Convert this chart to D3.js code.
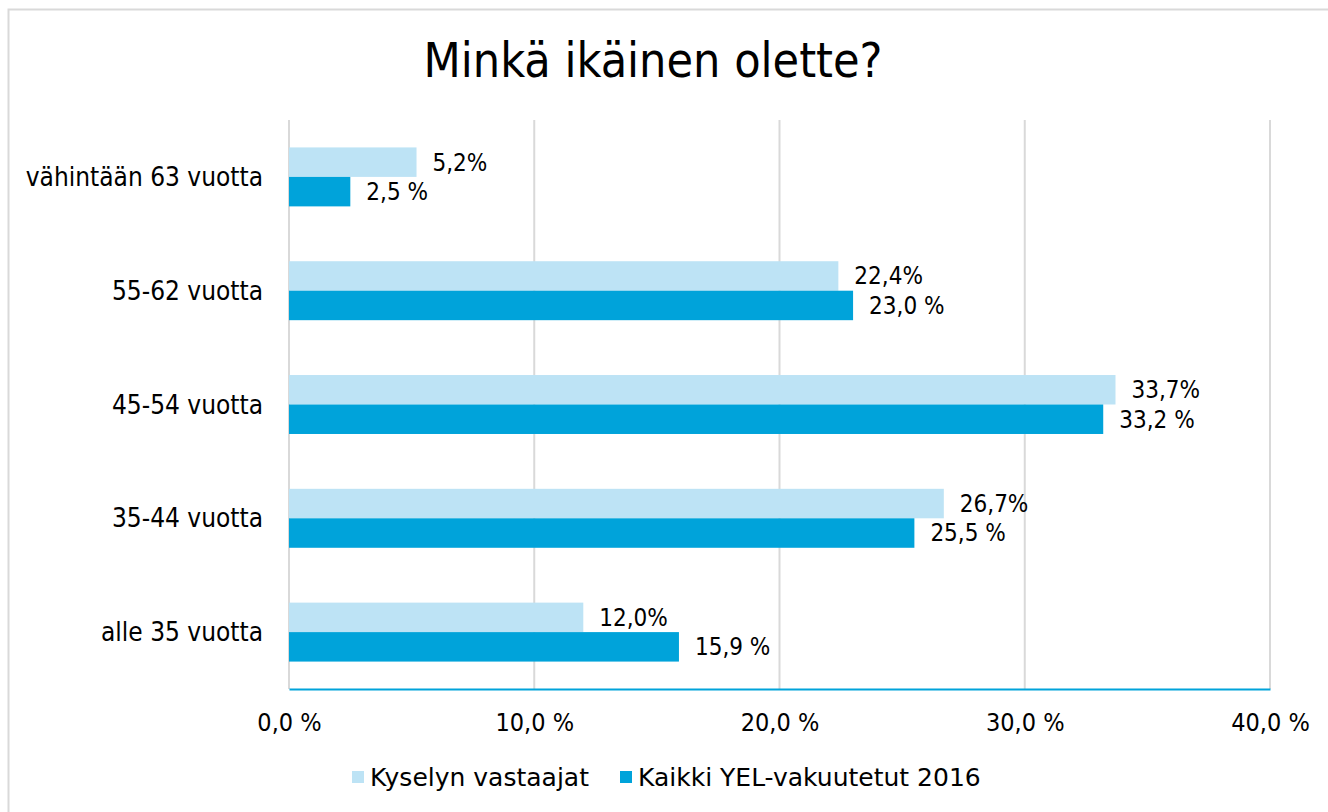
<!DOCTYPE html>
<html>
<head>
<meta charset="utf-8">
<script src="https://cdn.jsdelivr.net/npm/d3@7"></script>
<style>
  body { margin: 0; background: #fff; }
  text { font-family: "DejaVu Sans Condensed", "DejaVu Sans", sans-serif; fill: #000; }
</style>
</head>
<body>
<svg></svg>
<script>
const categories = ['vähintään 63 vuotta', '55-62 vuotta', '45-54 vuotta', '35-44 vuotta', 'alle 35 vuotta'];
const seriesNames = ['Kyselyn vastaajat', 'Kaikki YEL-vakuutetut 2016'];
const respondents = [5.2, 22.4, 33.7, 26.7, 12.0];
const allInsured = [2.5, 23.0, 33.2, 25.5, 15.9];
const xTicks = [0, 10, 20, 30, 40];
const colors = ['#bde3f5', '#00a3da'];

const width = 1328;
const height = 812;
const margin = {top: 120, right: 58, bottom: 123, left: 289};

const svg = d3.select('svg').attr('width', width).attr('height', height);

// chart frame
svg.append('rect')
    .attr('x', 8.5).attr('y', 9.5)
    .attr('width', width).attr('height', height)
    .attr('fill', 'none').attr('stroke', '#d9d9d9').attr('stroke-width', 2);

svg.append('text')
    .attr('x', 653).attr('y', 77)
    .attr('text-anchor', 'middle')
    .style('font-size', '48px')
    .text('Minkä ikäinen olette?');

const x = d3.scaleLinear().domain([0, 40]).range([margin.left, width - margin.right]);
const y = d3.scaleBand().domain(categories).range([margin.top, height - margin.bottom]);
const sub = d3.scaleBand().domain(seriesNames).range([0, y.bandwidth()]).paddingOuter(0.93);

const fmt = v => d3.format('.1f')(v).replace('.', ',');

// gridlines
svg.append('g')
  .selectAll('line')
  .data(xTicks)
  .join('line')
    .attr('x1', d => x(d)).attr('x2', d => x(d))
    .attr('y1', margin.top).attr('y2', height - margin.bottom)
    .attr('stroke', '#d9d9d9').attr('stroke-width', 2);

const data = [respondents, allInsured];

data.forEach((vals, si) => {
  const g = svg.append('g');
  g.selectAll('rect')
    .data(vals)
    .join('rect')
      .attr('x', x(0))
      .attr('y', (d, i) => y(categories[i]) + sub(seriesNames[si]))
      .attr('width', d => x(d) - x(0))
      .attr('height', sub.bandwidth())
      .attr('fill', colors[si]);
  g.selectAll('text')
    .data(vals)
    .join('text')
      .attr('x', d => x(d) + 16)
      .attr('y', (d, i) => y(categories[i]) + sub(seriesNames[si]) + sub.bandwidth() / 2)
      .attr('dy', '0.35em')
      .style('font-size', '24px')
      .text(d => si === 0 ? fmt(d) + '%' : fmt(d) + ' %');
});

// category labels
svg.append('g')
  .selectAll('text')
  .data(categories)
  .join('text')
    .attr('x', 263)
    .attr('y', d => y(d) + y.bandwidth() / 2)
    .attr('dy', '0.35em')
    .attr('text-anchor', 'end')
    .style('font-size', '26px')
    .text(d => d);

// x axis
const xAxis = svg.append('g')
    .attr('transform', 'translate(0,' + (height - margin.bottom) + ')')
    .call(d3.axisBottom(x).tickValues(xTicks).tickSize(0).tickPadding(24).tickFormat(d => fmt(d) + ' %'));
xAxis.select('.domain').attr('stroke', '#00a3da').attr('stroke-width', 2);
xAxis.selectAll('text')
    .style('font-family', '"DejaVu Sans Condensed", sans-serif')
    .style('font-size', '25px').attr('fill', '#000');

// legend
const legendX = [352, 620];
const legend = svg.append('g')
  .selectAll('g')
  .data(seriesNames)
  .join('g')
    .attr('transform', (d, i) => 'translate(' + legendX[i] + ',777)');
legend.append('rect')
    .attr('x', 0).attr('y', -6).attr('width', 12).attr('height', 12)
    .attr('fill', (d, i) => colors[i]);
legend.append('text')
    .attr('x', 18).attr('dy', '0.35em')
    .style('font-family', '"DejaVu Sans", sans-serif')
    .style('font-size', '25px')
    .text(d => d);
</script>
</body>
</html>
